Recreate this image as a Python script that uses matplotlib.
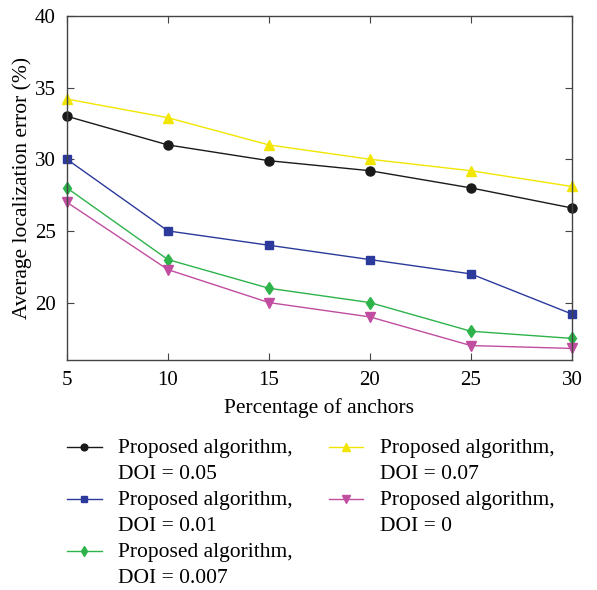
import matplotlib
matplotlib.use('Agg')
import numpy as np
from matplotlib import pyplot as plt
from matplotlib.legend_handler import HandlerLine2D

plt.rcParams['font.family'] = ['Liberation Serif', 'DejaVu Serif']

anchors = [5, 10, 15, 20, 25, 30]

doi_005 = [33.0, 31.0, 29.9, 29.2, 28.0, 26.6]
doi_007 = [34.2, 32.9, 31.0, 30.0, 29.2, 28.1]
doi_001 = [30.0, 25.0, 24.0, 23.0, 22.0, 19.2]
doi_0007 = [28.0, 23.0, 21.0, 20.0, 18.0, 17.5]
doi_0 = [27.0, 22.3, 20.0, 19.0, 17.0, 16.8]

y_ticks = [20, 25, 30, 35, 40]

LEGEND_SIZE = 15.5


class TopLineHandler(HandlerLine2D):
    # put the legend sample level with the first text line, not centred
    def create_artists(self, legend, orig_handle, xdescent, ydescent,
                       width, height, fontsize, trans):
        arts = super().create_artists(legend, orig_handle, xdescent, ydescent,
                                      width, height, fontsize, trans)
        for a in arts:
            a.set_ydata(np.asarray(a.get_ydata()) + 0.66 * fontsize)
        return arts


fig = plt.figure(figsize=(5.97, 5.90), dpi=100)
ax = fig.add_axes([0.112, 0.39, 0.846, 0.583])

# plot order chosen so the legend (column-first) matches the reference
series = [
    (doi_005, 'o', '#1a1a1a', 6.5, 'DOI = 0.05'),
    (doi_001, 's', '#2b3a9b', 5.5, 'DOI = 0.01'),
    (doi_0007, 'd', '#2db34a', 6.5, 'DOI = 0.007'),
    (doi_007, '^', '#f2e600', 7, 'DOI = 0.07'),
    (doi_0, 'v', '#c04da0', 7, 'DOI = 0'),
]
lines = []
for vals, mk, col, ms, doi in series:
    lines.extend(ax.plot(anchors, vals, '-', marker=mk, color=col, lw=1.0,
                         ms=ms, clip_on=False,
                         label='Proposed algorithm,\n' + doi))

ax.set_xlim(5, 30)
ax.set_ylim(16, 40)
ax.set_xticks(anchors)
ax.set_yticks(y_ticks)
ax.tick_params(direction='in', top=True, right=True, labelsize=15,
               length=5, color='#444444', pad=8)
for s in ax.spines.values():
    s.set_color('#444444')
    s.set_linewidth(1.0)

ax.set_xlabel('Percentage of anchors', fontsize=15.5, labelpad=6)
ax.set_ylabel('Average localization error (%)', fontsize=15.5, labelpad=2)

leg = fig.legend(handles=lines, ncol=2, frameon=False,
                 prop={'size': LEGEND_SIZE}, loc='upper left',
                 bbox_to_anchor=(0.08, 0.289), handlelength=1.6,
                 columnspacing=1.7, labelspacing=0.33, handletextpad=0.75,
                 markerscale=0.75,
                 handler_map={l: TopLineHandler() for l in lines})
for t in leg.get_texts():
    t.set_linespacing(1.5)

plt.savefig('out.png', dpi=100)
